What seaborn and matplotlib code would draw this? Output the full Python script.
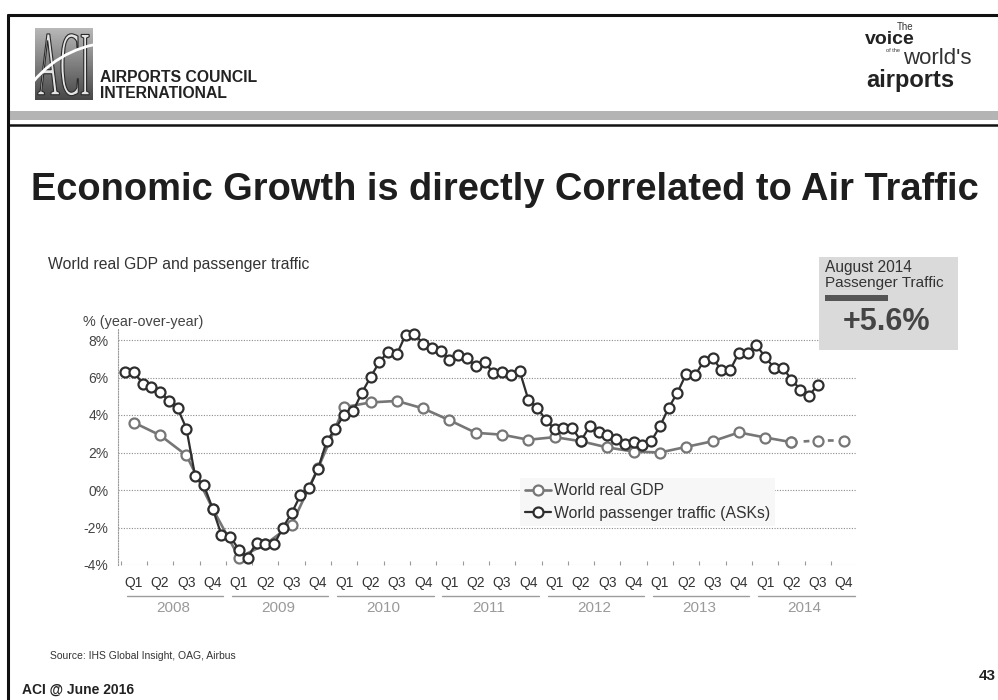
import matplotlib
matplotlib.use("Agg")
import numpy as np
import matplotlib.pyplot as plt
import seaborn as sns
from matplotlib.patches import Rectangle, PathPatch
from matplotlib.textpath import TextPath
from matplotlib.font_manager import FontProperties
from matplotlib.transforms import Affine2D, blended_transform_factory
from matplotlib.lines import Line2D
from matplotlib.path import Path

# ---- data -------------------------------------------------------------
years = [2008, 2009, 2010, 2011, 2012, 2013, 2014]
quarter_labels = ["Q1", "Q2", "Q3", "Q4"]

# World passenger traffic (ASKs), % year-over-year, monthly Jan 2008 - Aug 2014
ask_growth = [
    6.31, 6.31, 5.68, 5.50, 5.24, 4.74, 4.35, 3.28, 0.73, 0.25, -1.00, -2.40,
    -2.50, -3.18, -3.60, -2.80, -2.90, -2.90, -2.00, -1.24, -0.28, 0.12, 1.12, 2.60,
    3.28, 4.02, 4.20, 5.18, 6.02, 6.82, 7.38, 7.24, 8.28, 8.33, 7.80, 7.57,
    7.44, 6.95, 7.21, 7.03, 6.59, 6.83, 6.25, 6.28, 6.13, 6.35, 4.80, 4.39,
    3.73, 3.25, 3.29, 3.29, 2.62, 3.42, 3.10, 2.95, 2.72, 2.48, 2.55, 2.42,
    2.60, 3.40, 4.39, 5.20, 6.20, 6.11, 6.88, 7.05, 6.39, 6.39, 7.32, 7.32,
    7.71, 7.10, 6.52, 6.52, 5.89, 5.36, 5.04, 5.60,
]
# World real GDP, % year-over-year, quarterly Q1 2008 - Q4 2014
gdp_growth = [
    3.60, 2.92, 1.85, -1.00,
    -3.60, -2.90, -1.85, 1.15,
    4.42, 4.67, 4.75, 4.35,
    3.72, 3.05, 2.95, 2.68,
    2.82, 2.60, 2.27, 2.05,
    2.00, 2.30, 2.60, 3.07,
    2.80, 2.55, 2.64, 2.64,
]
gdp_estimated = 2          # trailing quarters drawn dashed (estimates)
y_ticks = [-4, -2, 0, 2, 4, 6, 8]
series_names = ["World real GDP", "World passenger traffic (ASKs)"]
highlight_month = "August 2014"
highlight_label = "Passenger Traffic"
highlight_value = 5.6

# ---- style ------------------------------------------------------------
sns.set_theme(style="white")
plt.rcParams["font.family"] = ["Liberation Sans", "DejaVu Sans"]

GDP_C = "#767676"
ASK_C = "#2e2e2e"
TXT = "#333333"

W, H = 998, 700
fig = plt.figure(figsize=(W / 100, H / 100), dpi=100)
fig.patch.set_facecolor("white")


def fx(px):
    return px / W


def fy(py):
    return 1 - py / H


# ---- page frame / header ---------------------------------------------
fig.add_artist(Line2D([fx(8), 1], [fy(15), fy(15)], color="#111111", lw=2.2))
fig.add_artist(Line2D([fx(8), fx(8)], [fy(15), 0], color="#111111", lw=2.2))
fig.add_artist(Rectangle((fx(8), fy(120)), 1 - fx(8), 9 / H,
                         transform=fig.transFigure, facecolor="#b4b4b4",
                         edgecolor="none"))
fig.add_artist(Line2D([fx(8), 1], [fy(124.5), fy(124.5)], color="#111111", lw=1.8))

# ACI emblem
lax = fig.add_axes([fx(35), fy(100), 57 / W, 72 / H])
lax.set_axis_off()
grad = np.linspace(0.72, 0.28, 64)[:, None] * np.ones((1, 8))
lax.imshow(grad, cmap="gray", vmin=0, vmax=1, extent=[0, 1, 0, 1], aspect="auto")
tp = TextPath((0, 0), "ACI", size=1, prop=FontProperties(family="Liberation Serif"))
bb = tp.get_extents()
tf = (Affine2D().translate(-bb.x0, -bb.y0)
      .scale(0.9 / bb.width, 0.86 / bb.height).translate(0.05, 0.06))
lax.add_patch(PathPatch(tf.transform_path(tp), facecolor="#e4e4e4",
                        edgecolor="#2a2a2a", lw=0.8, transform=lax.transData))
sw = Path([(-0.18, 0.10), (0.35, 0.72), (1.27, 0.80)],
          [Path.MOVETO, Path.CURVE3, Path.CURVE3])
lax.add_patch(PathPatch(sw, facecolor="none", edgecolor="white", lw=2.0,
                        clip_on=False, transform=lax.transData))
lax.set_xlim(0, 1)
lax.set_ylim(0, 1)

fig.text(fx(100), fy(78), "AIRPORTS COUNCIL", fontsize=11.3, weight="bold",
         color="#222222", ha="left", va="center")
fig.text(fx(100), fy(94), "INTERNATIONAL", fontsize=11.3, weight="bold",
         color="#222222", ha="left", va="center")

# tagline
fig.text(fx(897), fy(27), "The", fontsize=7, color=TXT, ha="left", va="center")
fig.text(fx(865), fy(40), "voice", fontsize=14, weight="bold", color="#222222",
         ha="left", va="center")
fig.text(fx(886), fy(50), "of the", fontsize=4, color=TXT, ha="left", va="center")
fig.text(fx(903), fy(58), "world's", fontsize=16, color=TXT, ha="left", va="center")
fig.text(fx(866), fy(80), "airports", fontsize=17, weight="bold", color="#222222",
         ha="left", va="center")

# ---- titles -----------------------------------------------------------
fig.text(fx(505), fy(190), "Economic Growth is directly Correlated to Air Traffic",
         fontsize=27.4, weight="bold", color="#1e1e1e", ha="center", va="center")
fig.text(fx(48), fy(264), "World real GDP and passenger traffic", fontsize=11.3,
         color=TXT, ha="left", va="center")
fig.text(fx(83), fy(322), "% (year-over-year)", fontsize=10.4, color="#444444",
         ha="left", va="center")

# ---- chart ------------------------------------------------------------
ax = fig.add_axes([fx(118), fy(565), (857 - 118) / W, (565 - 328.75) / H])
ax.set_facecolor("none")

ask_x = np.arange(len(ask_growth))
gdp_x = np.arange(len(gdp_growth)) * 3 + 1
n_solid = len(gdp_growth) - gdp_estimated

for v in y_ticks:
    ax.axhline(v, color="#8a8a8a", lw=0.8, ls=(0, (1, 1.4)), zorder=1)

mk = dict(marker="o", markersize=7.2, markerfacecolor="white")
sns.lineplot(x=gdp_x[:n_solid], y=gdp_growth[:n_solid], ax=ax, color=GDP_C,
             lw=1.9, markeredgecolor=GDP_C, markeredgewidth=1.6, zorder=3,
             clip_on=False, **mk)
sns.lineplot(x=gdp_x[n_solid - 1:], y=gdp_growth[n_solid - 1:], ax=ax,
             color=GDP_C, lw=1.9, linestyle=(0, (2.2, 2.4)),
             markeredgecolor=GDP_C, markeredgewidth=1.6, zorder=3,
             clip_on=False, **mk)
sns.lineplot(x=ask_x, y=ask_growth, ax=ax, color=ASK_C, lw=1.6,
             markeredgecolor=ASK_C, markeredgewidth=1.6, zorder=4,
             clip_on=False, **mk)

for s in ["top", "right", "bottom"]:
    ax.spines[s].set_visible(False)
ax.spines["left"].set_linestyle((0, (1, 1.4)))
ax.spines["left"].set_color("#9a9a9a")
ax.spines["left"].set_linewidth(0.8)

ax.set_yticks(y_ticks)
ax.set_yticklabels([f"{v}%" for v in y_ticks])
ax.set_xticks(gdp_x)
ax.set_xticklabels(quarter_labels * len(years))
ax.set_xticks(np.arange(len(gdp_growth) + 1) * 3 - 0.5, minor=True)
ax.tick_params(axis="y", length=0, pad=7, labelsize=10, labelcolor="#444444")
ax.tick_params(axis="x", which="major", length=0, pad=8, labelsize=10,
               labelcolor="#333333")
ax.tick_params(axis="x", which="minor", direction="in", length=3, width=0.8,
               color="#9a9a9a", bottom=True)
ax.set_xlabel("")
ax.set_ylabel("")

# year groups under the quarter labels
trans = blended_transform_factory(ax.transData, fig.transFigure)
for i, yr in enumerate(years):
    start = 12 * i
    ax.add_line(Line2D([start + 0.2, start + 11.2], [fy(596), fy(596)],
                       transform=trans, color="#9c9c9c", lw=1.0, clip_on=False))
    ax.text(start + 5.5, fy(608), str(yr), transform=trans, ha="center",
            va="center", fontsize=11, color="#9a9a9a")

ax.set_xlim(-0.8, 83.47)
ax.set_ylim(-4, 8.6)

handles = [
    Line2D([], [], color=GDP_C, lw=1.9, markeredgecolor=GDP_C,
           markeredgewidth=1.6, **mk),
    Line2D([], [], color=ASK_C, lw=1.6, markeredgecolor=ASK_C,
           markeredgewidth=1.6, **mk),
]
leg = ax.legend(handles, series_names, loc="upper left",
                bbox_to_anchor=(fx(520), fy(478)), bbox_transform=fig.transFigure,
                frameon=True, facecolor="#f7f7f7", edgecolor="none",
                framealpha=1, fancybox=False, fontsize=11.3, handlelength=1.6,
                handletextpad=0.2, labelspacing=0.45, borderpad=0.35,
                borderaxespad=0)
for t in leg.get_texts():
    t.set_color(TXT)

# highlight box
fig.add_artist(Rectangle((fx(819), fy(350)), (958 - 819) / W, (350 - 257) / H,
                         transform=fig.transFigure, facecolor="#dadada",
                         edgecolor="none", zorder=5))
fig.text(fx(825), fy(268), highlight_month, fontsize=11.2, color=TXT,
         ha="left", va="center", zorder=6)
fig.text(fx(825), fy(283), highlight_label, fontsize=11, color=TXT,
         ha="left", va="center", zorder=6)
fig.add_artist(Rectangle((fx(825), fy(301)), 63 / W, 6 / H,
                         transform=fig.transFigure, facecolor="#555555",
                         edgecolor="none", zorder=6))
fig.text(fx(886), fy(322), f"+{highlight_value:.1f}%", fontsize=22,
         weight="bold", color="#444444", ha="center", va="center", zorder=6)

# ---- footer -----------------------------------------------------------
fig.text(fx(50), fy(656), "Source: IHS Global Insight, OAG, Airbus", fontsize=7.5,
         color=TXT, ha="left", va="center")
fig.text(fx(22), fy(690), "ACI @ June 2016", fontsize=10, weight="bold",
         color="#222222", ha="left", va="center")
fig.text(fx(996), fy(676), "43", fontsize=11, weight="bold", color="#222222",
         ha="right", va="center")

fig.savefig("out.png", dpi=100, facecolor="white")
